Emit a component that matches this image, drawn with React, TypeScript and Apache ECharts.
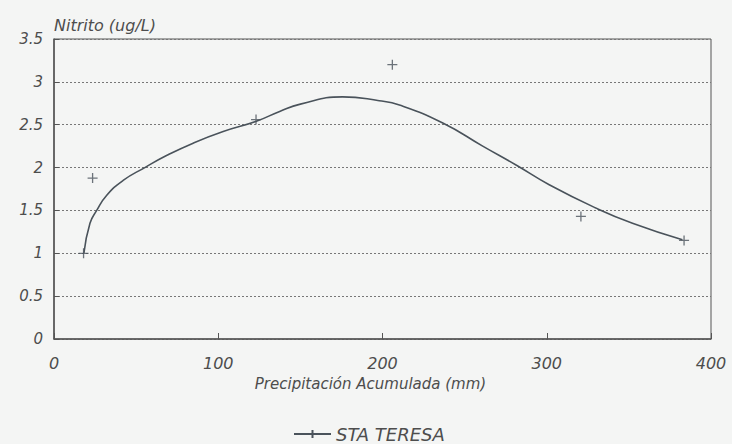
import React, { useEffect, useRef } from "react";
import * as echarts from "echarts";

const seriesName = "STA TERESA";
const xAxisTitle = "Precipitación Acumulada (mm)";
const yAxisTitle = "Nitrito (ug/L)";

// observed points
const obsX = [18, 23.5, 123, 206, 320.8, 383.6];
const obsY = [1.0, 1.877, 2.56, 3.2, 1.43, 1.15];

// fitted curve
const fitX = [18.2, 21.9, 26, 32, 42.1, 55.3, 68.5, 84.7, 103, 123.2, 137.4, 150, 175.7, 198, 210.3, 236.7, 261, 281.3, 301.5, 330, 352.2, 382.6];
const fitY = [1.0, 1.35, 1.5, 1.675, 1.85, 2.0, 2.14, 2.285, 2.42, 2.54, 2.655, 2.74, 2.825, 2.78, 2.73, 2.52, 2.25, 2.03, 1.8, 1.527, 1.35, 1.157];

const PLUS = "path://M0,5L10,5M5,0L5,10";
const INK = "#4a535b";
const TXT = "#4d4d4d";
const FONT = "DejaVu Sans";

export default function App() {
  const ref = useRef<HTMLDivElement>(null);
  useEffect(() => {
    if (!ref.current) return;
    const chart = echarts.init(ref.current, null, { renderer: "svg" });
    chart.setOption({
      animation: false,
      backgroundColor: "#f4f5f4",
      textStyle: { fontFamily: FONT, fontStyle: "italic", color: TXT },
      grid: {
        left: 54,
        right: 21,
        top: 39,
        bottom: 105,
        show: true,
        borderColor: "#555",
        borderWidth: 1,
        backgroundColor: "transparent",
      },
      legend: {
        left: 288,
        top: 420,
        itemWidth: 37,
        itemHeight: 10,
        itemGap: 8,
        data: [seriesName],
        textStyle: { fontFamily: FONT, fontStyle: "italic", color: TXT, fontSize: 18 },
      },
      xAxis: {
        type: "value",
        min: 0,
        max: 400,
        interval: 100,
        name: xAxisTitle,
        nameLocation: "middle",
        nameGap: 37,
        nameTextStyle: {
          fontFamily: FONT,
          fontStyle: "italic",
          color: TXT,
          fontSize: 15,
          verticalAlign: "top",
          padding: [0, 24, 0, 0],
        },
        axisLine: { show: true, lineStyle: { color: "#555", width: 1.5 } },
        axisTick: { show: true, inside: true, length: 6, lineStyle: { color: "#555" } },
        axisLabel: { margin: 16, fontSize: 16, color: TXT, fontStyle: "italic", fontFamily: FONT },
        splitLine: { show: false },
      },
      yAxis: {
        type: "value",
        min: 0,
        max: 3.5,
        interval: 0.5,
        name: yAxisTitle,
        nameLocation: "end",
        nameGap: 6,
        nameTextStyle: { fontFamily: FONT, fontStyle: "italic", color: TXT, fontSize: 16, align: "left", verticalAlign: "bottom" },
        axisLine: { show: true, lineStyle: { color: "#555", width: 1.5 } },
        axisTick: { show: true, inside: true, length: 5, lineStyle: { color: "#555" } },
        axisLabel: { margin: 11, fontSize: 15, color: TXT, fontStyle: "italic", fontFamily: FONT },
        splitLine: { show: true, lineStyle: { color: "#777", type: [2, 2], width: 1 } },
      },
      series: [
        {
          name: seriesName,
          type: "line",
          data: fitX.map((x, i) => [x, fitY[i]]),
          smooth: 0.5,
          showSymbol: false,
          symbol: PLUS,
          symbolSize: 10,
          lineStyle: { color: INK, width: 1.6 },
          itemStyle: { color: INK, borderColor: INK, borderWidth: 1.3 },
          z: 3,
        },
        {
          name: seriesName,
          type: "scatter",
          data: obsX.map((x, i) => [x, obsY[i]]),
          symbol: PLUS,
          symbolSize: 10,
          itemStyle: { color: INK, borderColor: INK, borderWidth: 1.3 },
          z: 4,
        },
      ],
    });
    return () => chart.dispose();
  }, []);
  return <div ref={ref} style={{ width: 732, height: 444, position: "absolute", left: 0, top: 0 }} />;
}
